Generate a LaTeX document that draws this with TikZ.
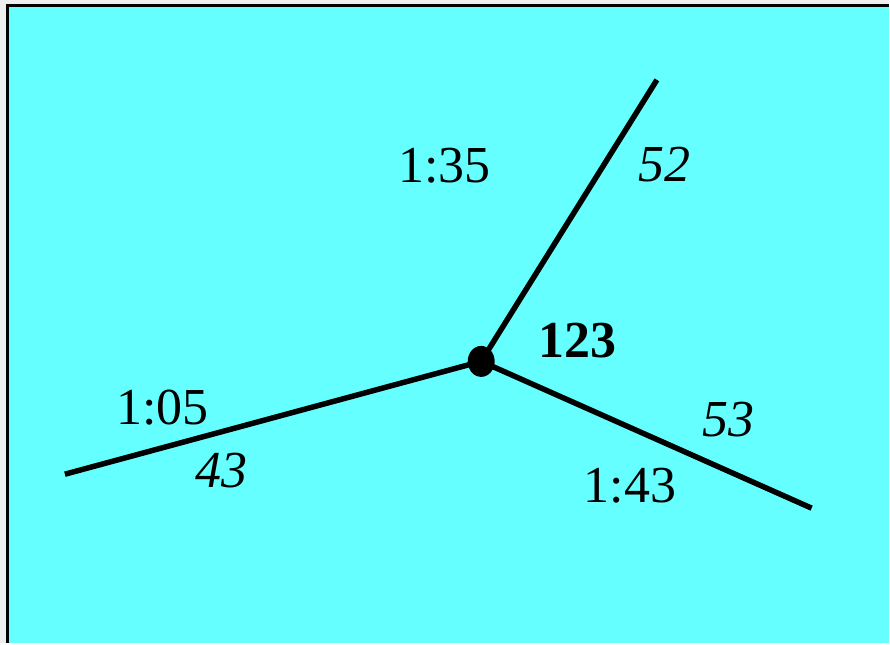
\documentclass[tikz,border=0pt]{standalone}
\usepackage{fontspec}
\setmainfont{Liberation Serif}
\usetikzlibrary{shapes.geometric}
\definecolor{skyfill}{HTML}{66FFFF}
\definecolor{paper}{HTML}{EEEEEE}

\begin{document}
\begin{tikzpicture}[x=1pt,y=-1pt,
    lbl/.style={anchor=base,inner sep=0pt,font=\fontsize{52}{60}\selectfont},
    road/.style={line width=5.5pt}]
\fill[paper] (0,0) rectangle (890,644);
\fill[skyfill] (8,6) rectangle (890,644);
\draw[line width=3pt] (8,644) -- (8,6) -- (890,6);
\useasboundingbox (0,0) rectangle (890,644);

\coordinate (north) at (658,80);
\coordinate (west) at (65,475);
\coordinate (east) at (813,509);
\node[ellipse,fill=black,minimum width=27pt,minimum height=31pt,inner sep=0pt] (hub) at (482,362) {};

\draw[road] (hub.center) -- (north);
\draw[road] (hub.center) -- (west);
\draw[road] (hub.center) -- (east);

\node[lbl] (tnorth) at (445,183) {1:35};
\node[lbl] (dnorth) at (666,182) {\itshape 52};
\node[lbl] (twest) at (163,425) {1:05};
\node[lbl] (dwest) at (222,488) {\itshape 43};
\node[lbl] (deast) at (730,437) {\itshape 53};
\node[lbl] (teast) at (631,503) {1:43};
\node[lbl] (hubno) at (578,358) {\bfseries 123};
\end{tikzpicture}
\end{document}
